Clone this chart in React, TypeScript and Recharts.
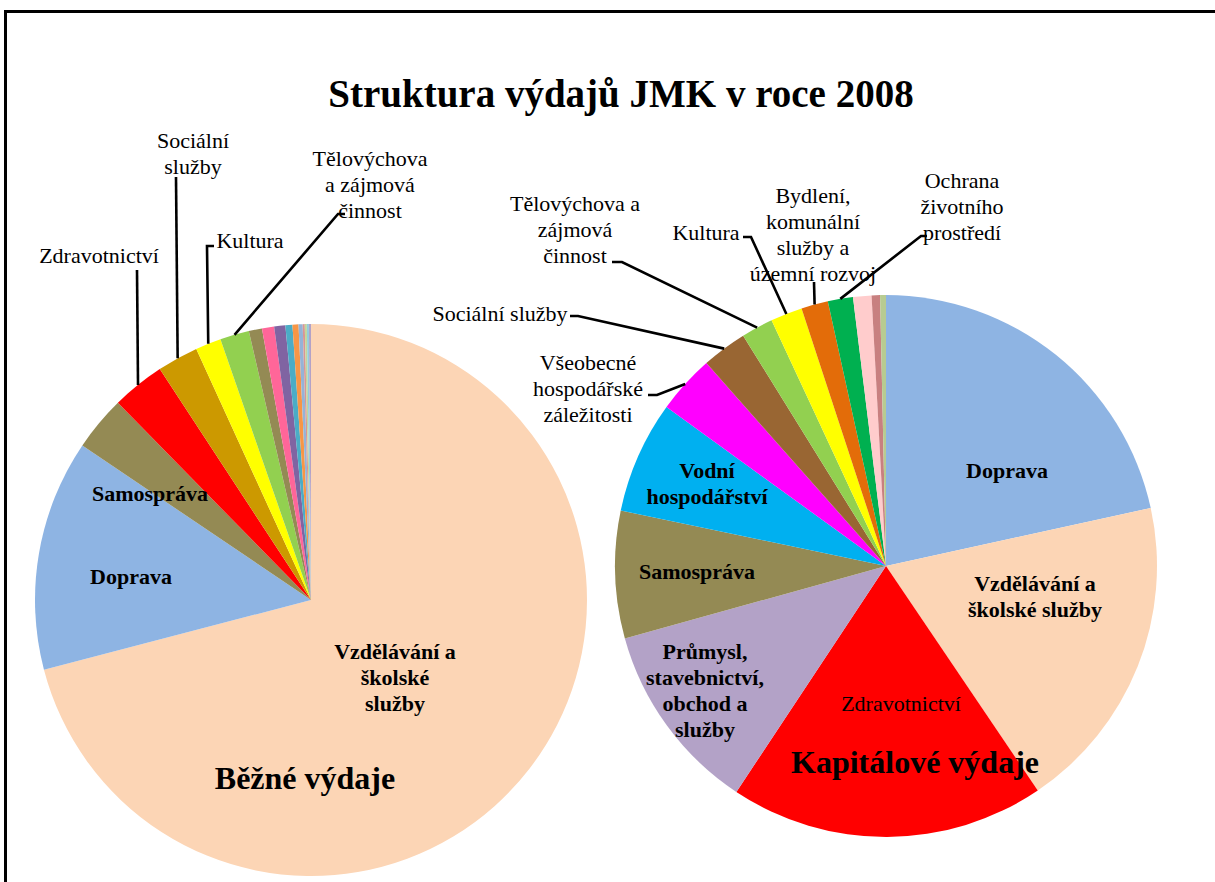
import React from 'react';
import { PieChart, Pie, Cell } from 'recharts';

const FONT = '"Liberation Serif", "Times New Roman", Times, serif';

// ---- Běžné výdaje (running expenditure), % share ----
const runningNames = [
  'Vzdělávání a školské služby',
  'Doprava',
  'Samospráva',
  'Zdravotnictví',
  'Sociální služby',
  'Kultura',
  'Tělovýchova a zájmová činnost',
  'Ostatní činnosti',
  'Bezpečnost a veřejný pořádek',
  'Bydlení, komunální služby a územní rozvoj',
  'Vodní hospodářství',
  'Ochrana životního prostředí',
  'Všeobecné hospodářské záležitosti',
  'Zemědělství',
  'Průmysl, stavebnictví, obchod a služby',
  'Krizová opatření',
  'Ostatní',
];
const runningValues = [70.8, 13.5, 3.2, 3.1, 2.4, 1.5, 1.7, 0.77, 0.71, 0.65, 0.41, 0.35, 0.24, 0.12, 0.12, 0.12, 0.12];
const runningColors = [
  '#FCD5B5', '#8EB4E3', '#948A54', '#FF0000', '#CC9900', '#FFFF00', '#92D050',
  '#948A54', '#FF6699', '#8064A2', '#4BACC6', '#F79646', '#95B3D7', '#D99694',
  '#C3D69B', '#93CDDD', '#B3A2C7',
];

// ---- Kapitálové výdaje (capital expenditure), % share ----
const capitalNames = [
  'Doprava',
  'Vzdělávání a školské služby',
  'Zdravotnictví',
  'Průmysl, stavebnictví, obchod a služby',
  'Samospráva',
  'Vodní hospodářství',
  'Všeobecné hospodářské záležitosti',
  'Sociální služby',
  'Tělovýchova a zájmová činnost',
  'Kultura',
  'Bydlení, komunální služby a územní rozvoj',
  'Ochrana životního prostředí',
  'Bezpečnost a veřejný pořádek',
  'Zemědělství',
  'Ostatní',
];
const capitalValues = [21.6, 19.0, 18.8, 11.4, 7.6, 6.7, 3.5, 2.7, 1.9, 1.9, 1.6, 1.5, 1.1, 0.5, 0.35];
const capitalColors = [
  '#8EB4E3', '#FCD5B5', '#FF0000', '#B3A2C7', '#948A54', '#00B0F0', '#FF00FF',
  '#996633', '#92D050', '#FFFF00', '#E36C09', '#00B050', '#FFCCCC', '#C88080', '#B7CB91',
];

const runningData = runningNames.map((name, i) => ({ name, value: runningValues[i] }));
const capitalData = capitalNames.map((name, i) => ({ name, value: capitalValues[i] }));

// ---- label layout (chart pixel coordinates) ----
type LabelSpec = {
  lines: string[];
  x: number;
  y: number;
  bold?: boolean;
  anchor?: 'start' | 'middle' | 'end';
  leader?: [number, number][];
};

const runningLabels: Record<string, LabelSpec> = {
  'Vzdělávání a školské služby': { lines: ['Vzdělávání a', 'školské', 'služby'], x: 395, y: 651, bold: true },
  'Doprava': { lines: ['Doprava'], x: 131, y: 576, bold: true },
  'Samospráva': { lines: ['Samospráva'], x: 150, y: 493, bold: true },
  'Zdravotnictví': { lines: ['Zdravotnictví'], x: 99, y: 255, leader: [[137, 270]] },
  'Sociální služby': { lines: ['Sociální', 'služby'], x: 193, y: 140, leader: [[176, 177]] },
  'Kultura': { lines: ['Kultura'], x: 250, y: 240, leader: [[207, 246], [214, 246]] },
  'Tělovýchova a zájmová činnost': {
    lines: ['Tělovýchova', 'a zájmová', 'činnost'], x: 370, y: 158, leader: [[338, 214], [345, 214]],
  },
};

const capitalLabels: Record<string, LabelSpec> = {
  'Doprava': { lines: ['Doprava'], x: 1007, y: 470, bold: true },
  'Vzdělávání a školské služby': { lines: ['Vzdělávání a', 'školské služby'], x: 1035, y: 583, bold: true },
  'Zdravotnictví': { lines: ['Zdravotnictví'], x: 901, y: 703 },
  'Průmysl, stavebnictví, obchod a služby': {
    lines: ['Průmysl,', 'stavebnictví,', 'obchod a', 'služby'], x: 705, y: 651, bold: true,
  },
  'Samospráva': { lines: ['Samospráva'], x: 697, y: 571, bold: true },
  'Vodní hospodářství': { lines: ['Vodní', 'hospodářství'], x: 707, y: 470, bold: true },
  'Všeobecné hospodářské záležitosti': {
    lines: ['Všeobecné', 'hospodářské', 'záležitosti'], x: 588, y: 362, leader: [[657, 395], [648, 395]],
  },
  'Sociální služby': { lines: ['Sociální služby'], x: 500, y: 313, leader: [[578, 316], [570, 316]] },
  'Tělovýchova a zájmová činnost': {
    lines: ['Tělovýchova a', 'zájmová', 'činnost'], x: 575, y: 203, leader: [[622, 262], [612, 262]],
  },
  'Kultura': { lines: ['Kultura'], x: 706, y: 232, leader: [[751, 237], [743, 237]] },
  'Bydlení, komunální služby a územní rozvoj': {
    lines: ['Bydlení,', 'komunální', 'služby a', 'územní rozvoj'], x: 813, y: 195, leader: [[814, 282]],
  },
  'Ochrana životního prostředí': {
    lines: ['Ochrana', 'životního', 'prostředí'], x: 962, y: 180, leader: [[921, 236], [927, 236]],
  },
};

const LINE_GAP = 26;
const LABEL_SIZE = 22;
const RAD = Math.PI / 180;

type BigTitle = { text: string; x: number; y: number };

const makeLabel = (specs: Record<string, LabelSpec>, big: BigTitle) => (props: any) => {
  const { cx, cy, midAngle, outerRadius, name, index } = props;
  const spec = specs[name];
  const parts: React.ReactNode[] = [];
  if (spec) {
    if (spec.leader) {
      const ex = cx + outerRadius * Math.cos(-midAngle * RAD);
      const ey = cy + outerRadius * Math.sin(-midAngle * RAD);
      const pts = [[ex, ey], ...spec.leader].map((p) => p.join(',')).join(' ');
      parts.push(
        <polyline key="l" points={pts} fill="none" stroke="#000" strokeWidth={2.6} strokeLinejoin="miter" />,
      );
    }
    parts.push(
      <text
        key="t"
        x={spec.x}
        textAnchor={spec.anchor ?? 'middle'}
        fontFamily={FONT}
        fontSize={LABEL_SIZE}
        fontWeight={spec.bold ? 'bold' : 'normal'}
        fill="#000"
      >
        {spec.lines.map((ln, i) => (
          <tspan key={i} x={spec.x} y={spec.y + 7.5 + i * LINE_GAP}>
            {ln}
          </tspan>
        ))}
      </text>,
    );
  }
  if (index === 0) {
    parts.push(
      <text key="big" x={big.x} y={big.y} textAnchor="middle" fontFamily={FONT} fontSize={32} fontWeight="bold" fill="#000">
        {big.text}
      </text>,
    );
  }
  if (!parts.length) return null;
  return <g>{parts}</g>;
};

const runningLabel = makeLabel(runningLabels, { text: 'Běžné výdaje', x: 305, y: 789 });
const capitalLabel = makeLabel(capitalLabels, { text: 'Kapitálové výdaje', x: 915, y: 773 });

export default function App() {
  return (
    <div style={{ position: 'absolute', left: 0, top: 0, width: 1215, height: 882, overflow: 'hidden', background: '#fff' }}>
      <svg width={1215} height={882} style={{ position: 'absolute', left: 0, top: 0 }}>
        <rect x={5.5} y={11.5} width={1300} height={1000} fill="#fff" stroke="#000" strokeWidth={3} />
        <text x={621} y={107} textAnchor="middle" fontFamily={FONT} fontSize={39} fontWeight="bold" fill="#000">
          Struktura výdajů JMK v roce 2008
        </text>
      </svg>
      <div style={{ position: 'absolute', left: 0, top: 0 }}>
        <PieChart width={1215} height={882} margin={{ top: 0, right: 0, bottom: 0, left: 0 }}>
          <Pie
            data={runningData}
            dataKey="value"
            nameKey="name"
            cx={311}
            cy={600}
            outerRadius={276}
            startAngle={90}
            endAngle={-270}
            stroke="none"
            isAnimationActive={false}
            label={runningLabel}
            labelLine={false}
          >
            {runningData.map((d, i) => (
              <Cell key={d.name + i} fill={runningColors[i]} />
            ))}
          </Pie>
          <Pie
            data={capitalData}
            dataKey="value"
            nameKey="name"
            cx={886}
            cy={566}
            outerRadius={271}
            startAngle={90}
            endAngle={-270}
            stroke="none"
            isAnimationActive={false}
            label={capitalLabel}
            labelLine={false}
          >
            {capitalData.map((d, i) => (
              <Cell key={d.name + i} fill={capitalColors[i]} />
            ))}
          </Pie>
        </PieChart>
      </div>
    </div>
  );
}
